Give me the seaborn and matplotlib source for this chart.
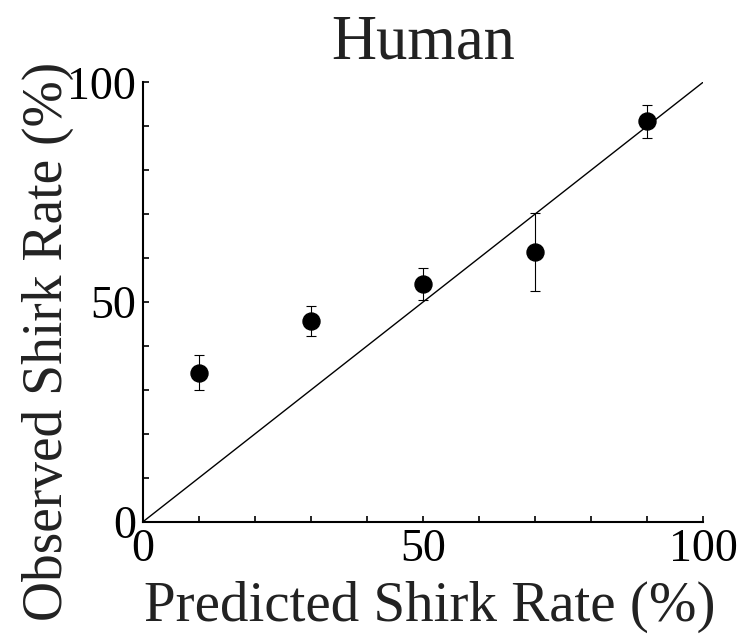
import numpy as np
import pandas as pd
import matplotlib
matplotlib.use("Agg")
import matplotlib.pyplot as plt
import seaborn as sns
from matplotlib import font_manager

# Valores
predicted = [10, 30, 50, 70, 90]
observed = [33.9, 45.8, 54.2, 61.3, 91.1]
err_low = [4.0, 3.4, 3.8, 8.7, 3.8]
err_high = [4.0, 3.4, 3.6, 8.9, 3.8]
diag = [0, 100]

df = pd.DataFrame({'Predicted': predicted, 'Observed': observed})

# Procura uma fonte serifada tipo Times
nomes = {f.name for f in font_manager.fontManager.ttflist}
serifa = next((n for n in ['Liberation Serif', 'Tinos', 'Times New Roman']
               if n in nomes), 'DejaVu Serif')

sns.set_style('ticks')
plt.rcParams['font.family'] = [serifa, 'DejaVu Serif']

fig = plt.figure(figsize=(7.4, 6.38), dpi=100)
ax = fig.add_axes([0.193, 0.182, 0.757, 0.689])

# Linha identidade
sns.lineplot(x=diag, y=diag, ax=ax, color='black', linewidth=1.0)

# Barras de erro e pontos
ax.errorbar(predicted, observed, yerr=[err_low, err_high], fmt='none',
            ecolor='black', elinewidth=0.8, capsize=3.5, capthick=0.8)
sns.scatterplot(data=df, x='Predicted', y='Observed', ax=ax, color='black',
                s=150, edgecolor='black', zorder=3)

ax.set_xlim(0, 100)
ax.set_ylim(0, 100)
ax.set_xticks([0, 50, 100])
ax.set_yticks([0, 50, 100])
ax.set_xticks(np.arange(0, 101, 10), minor=True)
ax.set_yticks(np.arange(0, 101, 10), minor=True)
ax.tick_params(which='both', direction='in', length=4, width=1.2,
               labelsize=33, pad=5, colors='black')
ax.tick_params(which='minor', length=4)

sns.despine(ax=ax)
for s in ['left', 'bottom']:
    ax.spines[s].set_linewidth(1.5)
    ax.spines[s].set_color('black')

ax.set_xlabel('Predicted Shirk Rate (%)', fontsize=41, labelpad=7, color='#222222')
ax.set_ylabel('Observed Shirk Rate (%)', fontsize=40, labelpad=-5, color='#222222')
ax.xaxis.label.set_x(0.5125)
ax.yaxis.label.set_y(0.41)
ax.set_title('Human', fontsize=45, pad=17, color='#222222')

plt.savefig('out.png', dpi=100)
